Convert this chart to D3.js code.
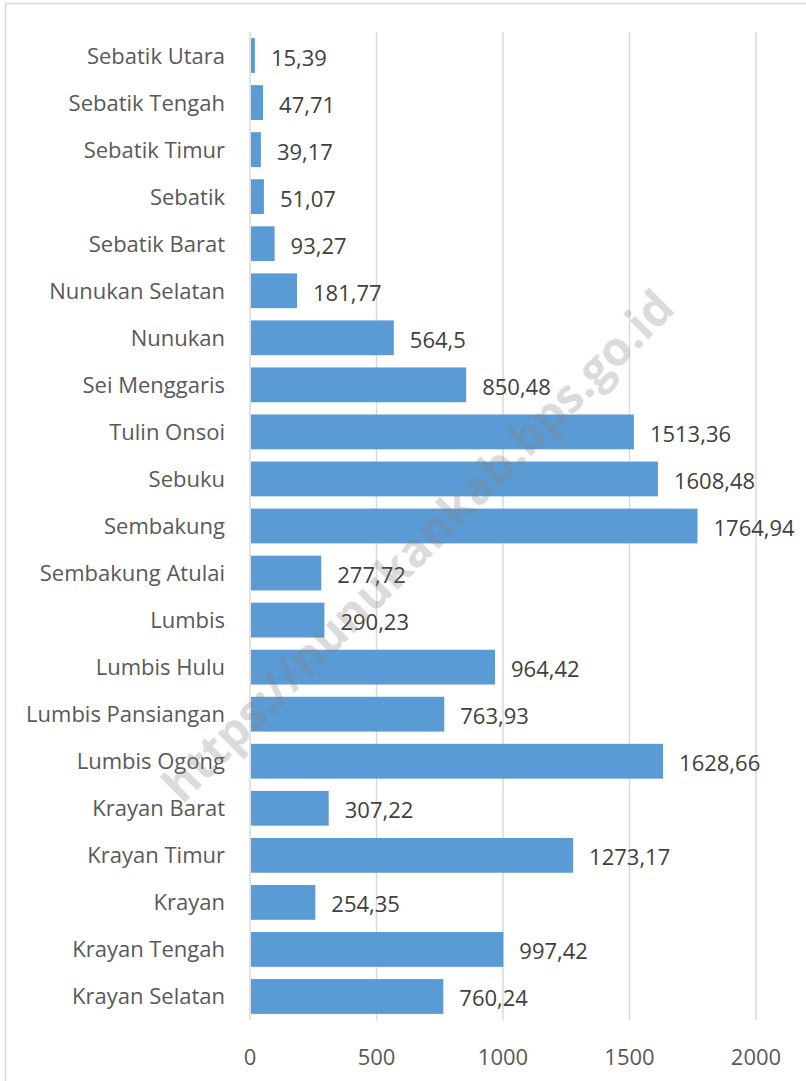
<!DOCTYPE html>
<meta charset="utf-8">
<style>
  body { margin: 0; background: white; }
  text { font-family: 'Open Sans', 'Noto Sans', sans-serif; }
</style>
<div id="chart"></div>
<script src="https://d3js.org/d3.v7.min.js"></script>
<script>

// kecamatan, top to bottom as shown
var kecamatan = [
  "Sebatik Utara", "Sebatik Tengah", "Sebatik Timur", "Sebatik", "Sebatik Barat",
  "Nunukan Selatan", "Nunukan", "Sei Menggaris", "Tulin Onsoi", "Sebuku",
  "Sembakung", "Sembakung Atulai", "Lumbis", "Lumbis Hulu", "Lumbis Pansiangan",
  "Lumbis Ogong", "Krayan Barat", "Krayan Timur", "Krayan", "Krayan Tengah",
  "Krayan Selatan"
];
var luas = [
  15.39, 47.71, 39.17, 51.07, 93.27,
  181.77, 564.5, 850.48, 1513.36, 1608.48,
  1764.94, 277.72, 290.23, 964.42, 763.93,
  1628.66, 307.22, 1273.17, 254.35, 997.42,
  760.24
];
var xTicks = [0, 500, 1000, 1500, 2000];

var width = 806, height = 1081;
var margin = {top: 32, right: 50, bottom: 61, left: 250};

var svg = d3.select("#chart").append("svg")
  .attr("width", width)
  .attr("height", height);

// chart area border (only top and left fall inside the picture)
svg.append("rect")
  .attr("x", 5.5).attr("y", 3.5)
  .attr("width", width).attr("height", height)
  .attr("fill", "none")
  .attr("stroke", "#d9d9d9")
  .attr("stroke-width", 1.5);

var x = d3.scaleLinear()
  .domain([0, 2000])
  .range([margin.left, width - margin.right]);

var y = d3.scaleBand()
  .domain(kecamatan)
  .range([margin.top, height - margin.bottom])
  .paddingInner(0.26)
  .paddingOuter(0.13);

// vertical gridlines
svg.append("g")
  .selectAll("line")
  .data(xTicks)
  .enter().append("line")
    .attr("x1", function(d) { return x(d); })
    .attr("x2", function(d) { return x(d); })
    .attr("y1", margin.top)
    .attr("y2", height - margin.bottom)
    .attr("stroke", "#d9d9d9")
    .attr("stroke-width", 1.5);

// tick labels
svg.append("g")
  .selectAll("text")
  .data(xTicks)
  .enter().append("text")
    .attr("x", function(d) { return x(d); })
    .attr("y", 1065)
    .attr("text-anchor", "middle")
    .style("font-size", "22px")
    .style("fill", "#595959")
    .text(function(d) { return d; });

// bars
svg.append("g")
  .selectAll("rect")
  .data(luas)
  .enter().append("rect")
    .attr("x", x(0) + 1)
    .attr("y", function(d, i) { return y(kecamatan[i]); })
    .attr("width", function(d) { return x(d) - x(0); })
    .attr("height", y.bandwidth())
    .attr("fill", "#5b9bd5");

// category labels
svg.append("g")
  .selectAll("text")
  .data(kecamatan)
  .enter().append("text")
    .attr("x", x(0) - 25)
    .attr("y", function(d) { return y(d) + y.bandwidth() / 2 + 8; })
    .attr("text-anchor", "end")
    .style("font-size", "22px")
    .style("fill", "#595959")
    .text(function(d) { return d; });

// value labels, comma decimal
svg.append("g")
  .selectAll("text")
  .data(luas)
  .enter().append("text")
    .attr("x", function(d) { return x(d) + 17; })
    .attr("y", function(d, i) { return y(kecamatan[i]) + y.bandwidth() / 2 + 10; })
    .style("font-size", "22px")
    .style("fill", "#404040")
    .text(function(d) { return String(d).replace(".", ","); });

// watermark
svg.append("text")
  .attr("transform", "translate(418,546) rotate(-45)")
  .attr("text-anchor", "middle")
  .attr("dy", "0.35em")
  .style("font-size", "47px")
  .style("font-weight", "bold")
  .style("fill", "#7f7f7f")
  .style("opacity", 0.28)
  .text("https://nunukankab.bps.go.id");

</script>
